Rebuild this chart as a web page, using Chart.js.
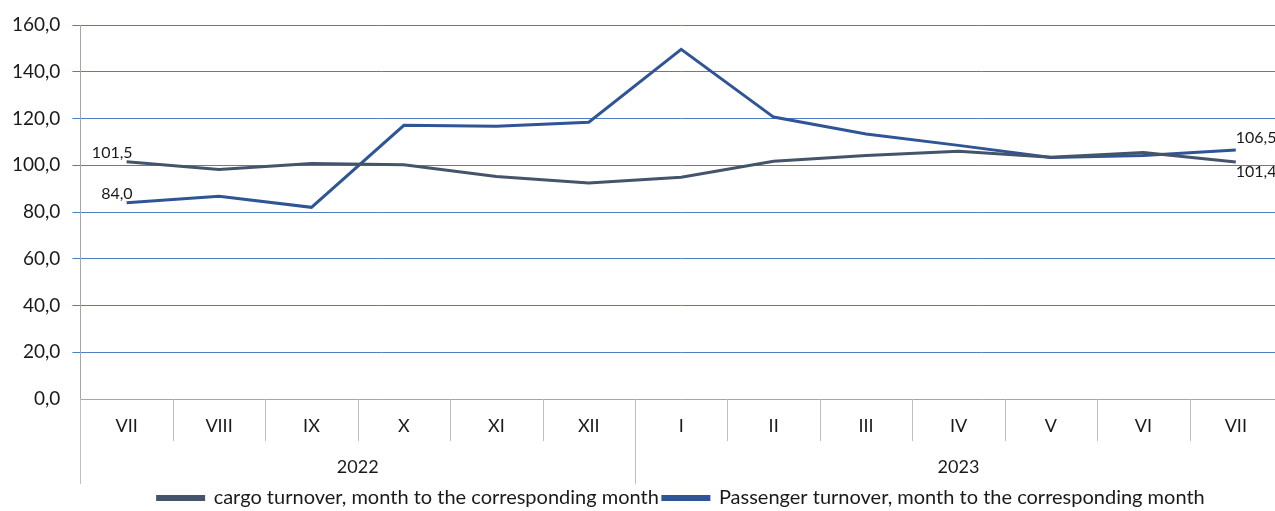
<!DOCTYPE html>
<html>
<head>
<meta charset="utf-8">
<script src="https://cdn.jsdelivr.net/npm/chart.js@4.4.0/dist/chart.umd.min.js"></script>
<style>
  html, body { margin: 0; padding: 0; background: #fff; overflow: hidden; }
  #wrap { width: 1282px; height: 511px; position: relative; }
</style>
</head>
<body>
<div id="wrap"><canvas id="turnoverChart"></canvas></div>
<script>
// months, Jul 2022 .. Jul 2023
var months = ['VII', 'VIII', 'IX', 'X', 'XI', 'XII', 'I', 'II', 'III', 'IV', 'V', 'VI', 'VII'];
var years = ['2022', '2023'];
var yearSpans = [6, 7];

var cargo = [101.5, 98.2, 100.8, 100.2, 95.2, 92.4, 94.9, 101.7, 104.2, 106.0, 103.4, 105.5, 101.4];
var passenger = [84.0, 86.7, 82.0, 117.1, 116.7, 118.4, 149.6, 120.6, 113.4, 108.5, 103.3, 104.2, 106.5];

var seriesNames = [
    'cargo turnover, month to the corresponding month',
    'Passenger turnover, month to the corresponding month'
];

// year separators and label positions (in category index units)
var yearBounds = [-0.5];
var yearCenters = [];
var acc = 0;
yearSpans.forEach(function (n) {
    yearCenters.push(acc - 0.5 + n / 2);
    acc += n;
    yearBounds.push(acc - 0.5);
});

function fmt(v) {
    return v.toFixed(1).replace('.', ',');
}

var FONT = 'Lato, "Open Sans", sans-serif';

// first/last value labels
var endLabels = {
    id: 'endLabels',
    afterDatasetsDraw: function (chart) {
        var ctx = chart.ctx;
        ctx.save();
        ctx.font = '16px ' + FONT;
        ctx.fillStyle = '#1a1a1a';
        chart.data.datasets.forEach(function (ds, i) {
            var pts = chart.getDatasetMeta(i).data;
            var first = pts[0], last = pts[pts.length - 1];
            ctx.textAlign = 'right';
            ctx.textBaseline = 'alphabetic';
            ctx.fillText(fmt(ds.data[0]), first.x + 6, first.y - 4);
            ctx.textAlign = 'left';
            if (ds.lastBelow) {
                ctx.textBaseline = 'top';
                ctx.fillText(fmt(ds.data[ds.data.length - 1]), last.x, last.y + 2);
            } else {
                ctx.textBaseline = 'alphabetic';
                ctx.fillText(fmt(ds.data[ds.data.length - 1]), last.x, last.y - 7);
            }
        });
        ctx.restore();
    }
};

// month and year separator lines under the plot
var separators = {
    id: 'separators',
    afterDraw: function (chart) {
        var x = chart.scales.x, x2 = chart.scales.x2;
        var ctx = chart.ctx;
        ctx.save();
        ctx.strokeStyle = '#bfbfbf';
        ctx.lineWidth = 1;
        ctx.beginPath();
        for (var i = 0; i <= months.length; i++) {
            var px = Math.round(x2.getPixelForValue(i - 0.5)) + 0.5;
            var bottom = yearBounds.indexOf(i - 0.5) >= 0 ? x2.bottom : x.bottom;
            ctx.moveTo(px, x.top);
            ctx.lineTo(px, bottom);
        }
        ctx.stroke();
        ctx.restore();
    }
};

var ctx = document.getElementById('turnoverChart').getContext('2d');
var turnoverChart = new Chart(ctx, {
    type: 'line',
    data: {
        labels: months,
        datasets: [{
            label: seriesNames[0],
            data: cargo,
            borderColor: '#44546a',
            backgroundColor: '#44546a',
            borderWidth: 3,
            pointRadius: 0,
            tension: 0,
            lastBelow: true
        }, {
            label: seriesNames[1],
            data: passenger,
            borderColor: '#2f5597',
            backgroundColor: '#2f5597',
            borderWidth: 3,
            pointRadius: 0,
            tension: 0,
            lastBelow: false
        }]
    },
    options: {
        responsive: true,
        maintainAspectRatio: false,
        animation: false,
        layout: { padding: { top: 25, left: 0, right: 0, bottom: -7 } },
        plugins: {
            tooltip: { enabled: false },
            legend: {
                position: 'bottom',
                fullSize: false,
                labels: {
                    font: { family: FONT, size: 20, lineHeight: 1 },
                    color: '#1a1a1a',
                    boxWidth: 46,
                    boxHeight: 3,
                    padding: 4
                }
            }
        },
        scales: {
            y: {
                min: 0,
                max: 160,
                ticks: {
                    stepSize: 20,
                    padding: 12,
                    color: '#1a1a1a',
                    font: { family: FONT, size: 19 },
                    callback: function (v) { return fmt(v); }
                },
                grid: {
                    color: function (c) { return c.tick && c.tick.value === 0 ? 'rgba(0,0,0,0)' : '#4f7fc0'; },
                    lineWidth: 1,
                    tickLength: 8
                },
                border: { display: true, color: '#a6a6a6', width: 1 }
            },
            x: {
                offset: true,
                afterFit: function (scale) { scale.height = 42; },
                ticks: {
                    padding: 16,
                    color: '#1a1a1a',
                    font: { family: FONT, size: 18 },
                    maxRotation: 0,
                    autoSkip: false
                },
                grid: { display: false, drawTicks: false },
                border: { display: true, color: '#a6a6a6', width: 1 }
            },
            x2: {
                type: 'linear',
                position: 'bottom',
                min: -0.5,
                max: 12.5,
                afterFit: function (scale) { scale.height = 43; },
                afterBuildTicks: function (scale) {
                    scale.ticks = yearCenters.map(function (v) { return { value: v }; });
                },
                ticks: {
                    padding: 15,
                    autoSkip: false,
                    maxRotation: 0,
                    color: '#1a1a1a',
                    font: { family: FONT, size: 18 },
                    callback: function (v) {
                        var k = yearCenters.indexOf(v);
                        return k >= 0 ? years[k] : '';
                    }
                },
                grid: { display: false, drawTicks: false },
                border: { display: false }
            }
        }
    },
    plugins: [endLabels, separators]
});
</script>
</body>
</html>
